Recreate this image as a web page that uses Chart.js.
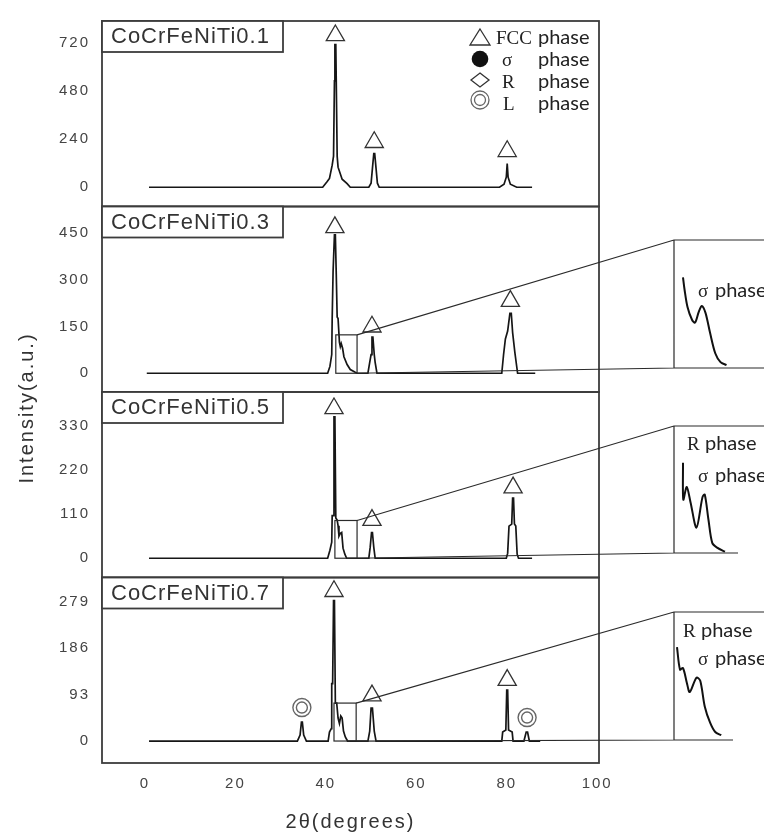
<!DOCTYPE html>
<html>
<head>
<meta charset="utf-8">
<script src="https://cdn.jsdelivr.net/npm/chart.js@4.4.1/dist/chart.umd.min.js"></script>
<style>
  html, body { margin: 0; padding: 0; background: #fff; }
  #wrap { position: relative; width: 764px; height: 835px; overflow: hidden; background: #fff; }
  #wrap canvas { position: absolute; }
</style>
</head>
<body>
<div id="wrap">
  <canvas id="main" width="764" height="835" style="left:0;top:0"></canvas>
  <canvas id="inset03" width="90" height="128" style="left:674px;top:240px"></canvas>
  <canvas id="inset05" width="90" height="127" style="left:674px;top:426px"></canvas>
  <canvas id="inset07" width="90" height="128" style="left:674px;top:612px"></canvas>
</div>
<script>
// --- Data ---
const xTicks = [0, 20, 40, 60, 80, 100];
const sampleNames = ['CoCrFeNiTi0.1', 'CoCrFeNiTi0.3', 'CoCrFeNiTi0.5', 'CoCrFeNiTi0.7'];

const ti01Ticks = [0, 240, 480, 720];
const ti03Ticks = [0, 150, 300, 450];
const ti05Ticks = [0, 110, 220, 330];
const ti07Ticks = [0, 93, 186, 279];

// XRD traces (2θ, intensity)
const ti01X = [0.9, 39.3, 40.3, 40.8, 41.4, 41.7, 41.9, 42.0, 42.2, 42.3, 42.5, 42.7, 43.6, 44.7, 45.4,
               49.5, 50.0, 50.3, 50.6, 50.8, 51.1, 51.4, 51.8,
               78.4, 79.4, 79.9, 80.1, 80.3, 80.8, 82.2, 85.6];
const ti01Y = [0, 0, 28, 44, 110, 155, 530, 710, 710, 530, 155, 100, 40, 18, 0,
               0, 20, 94, 168, 168, 94, 20, 0,
               0, 15, 50, 118, 50, 15, 0, 0];

const ti03X = [0.4, 40.4, 40.9, 41.3, 41.4, 41.6, 41.8, 41.9, 42.1, 42.3, 42.5, 42.7, 43.0, 43.2, 43.4, 43.7, 44.0, 44.7, 45.4, 46.5, 46.9,
               49.3, 49.7, 50.0, 50.2, 50.4, 50.7, 50.9, 51.3,
               78.9, 79.3, 79.7, 80.2, 80.7, 81.0, 81.3, 81.8, 82.4, 86.3];
const ti03Y = [0, 0, 22, 60, 176, 327, 327, 443, 443, 318, 180, 175, 100, 85, 95, 80, 53, 28, 12, 3, 0,
               0, 35, 60, 116, 116, 60, 35, 0,
               0, 60, 110, 135, 192, 192, 130, 66, 0, 0];

const ti05X = [0.9, 40.4, 40.9, 41.3, 41.4, 41.6, 41.8, 42.0, 42.2, 42.5, 42.7, 42.9, 43.2, 43.5, 43.8, 44.2, 44.6,
               49.5, 49.8, 50.1, 50.3, 50.6, 50.9,
               79.9, 80.2, 80.5, 81.1, 81.3, 81.5, 81.7, 82.0, 82.3, 82.6, 85.6];
const ti05Y = [0, 0, 20, 40, 106, 106, 352, 352, 100, 95, 81, 55, 62, 64, 25, 10, 0,
               0, 27, 64, 64, 27, 0,
               0, 12, 80, 85, 150, 150, 85, 80, 10, 0, 0];

const ti07X = [0.9, 33.7, 34.3, 34.6, 34.8, 35.1, 35.7,
               40.5, 40.8, 41.2, 41.3, 41.5, 41.7, 41.9, 42.1, 42.4, 42.7, 43.0, 43.3, 43.6, 43.9, 44.3, 44.8,
               49.3, 49.7, 50.0, 50.3, 50.7, 51.1,
               78.9, 79.1, 79.8, 80.0, 80.2, 80.4, 81.2, 81.4,
               83.8, 84.3, 84.6, 85.0, 87.4];
const ti07Y = [0, 0, 12, 38, 38, 12, 0,
               0, 18, 25, 115, 115, 281, 281, 76, 76, 46, 35, 50, 46, 20, 8, 0,
               0, 20, 66, 66, 20, 0,
               0, 18, 22, 102, 102, 22, 18, 0,
               0, 18, 18, 0, 0];

// FCC phase markers (triangles)
const ti01FccX = [42.1, 50.7, 80.1];
const ti01FccY = [756, 224, 179];
const ti03FccX = [42.0, 50.2, 80.8];
const ti03FccY = [467, 149, 231];
const ti05FccX = [41.8, 50.2, 81.4];
const ti05FccY = [373, 95, 176];
const ti07FccX = [41.8, 50.2, 80.1];
const ti07FccY = [300, 91, 122];
// L phase markers (double circles)
const ti07LX = [34.7, 84.5];
const ti07LY = [67, 47];

// zoomed region (2θ from..to, intensity top) for Ti0.3, Ti0.5, Ti0.7
const zoomFrom = [42.2, 42.0, 41.8];
const zoomTo = [46.9, 46.9, 46.7];
const zoomTop = [123, 94, 76];

// inset curves (zoomed scans)
const inset03X = [42.6, 42.7, 42.9, 43.2, 43.4, 43.65, 43.85, 44.1, 44.4, 44.75, 45.1, 45.5];
const inset03Y = [92, 80, 62, 49, 46, 57, 63, 56, 36, 15, 6, 3];
const inset05X = [42.6, 42.62, 42.85, 43.1, 43.5, 43.9, 44.05, 44.3, 44.55, 44.9, 45.4];
const inset05Y = [71, 42, 52, 40, 20, 44, 46, 26, 8, 4, 1];
const inset07X = [42.2, 42.4, 42.6, 42.85, 43.05, 43.5, 43.75, 44.05, 44.4, 44.75, 45.15];
const inset07Y = [58, 44, 45, 36, 30, 39, 37, 21, 11, 5, 3];

// --- Helpers ---
const pts = (xs, ys) => xs.map((x, i) => ({ x: x, y: ys[i] }));
const SANS = '"Liberation Sans", Arial, sans-serif';
const SERIF = '"Liberation Serif", "DejaVu Serif", serif';
const PHASE = 'Lato, "Open Sans", sans-serif';

const panels = [
    { id: 'y1', xs: ti01X, ys: ti01Y, ticks: ti01Ticks, min: -96, max: 828, fx: ti01FccX, fy: ti01FccY },
    { id: 'y2', xs: ti03X, ys: ti03Y, ticks: ti03Ticks, min: -60, max: 534, fx: ti03FccX, fy: ti03FccY },
    { id: 'y3', xs: ti05X, ys: ti05Y, ticks: ti05Ticks, min: -48, max: 414, fx: ti05FccX, fy: ti05FccY },
    { id: 'y4', xs: ti07X, ys: ti07Y, ticks: ti07Ticks, min: -44, max: 327.5, fx: ti07FccX, fy: ti07FccY }
];

// inset frames (pixel layout) for panels 2..4
const insetBoxes = [
    { id: 'y2', left: 674, top: 240, bottom: 368, baseEnd: 764,
      texts: [{ sym: 'σ', x: 698, px: 715, y: 297 }] },
    { id: 'y3', left: 674, top: 426, bottom: 553, baseEnd: 738,
      texts: [{ sym: 'R', x: 687, px: 705, y: 450 }, { sym: 'σ', x: 698, px: 715, y: 482 }] },
    { id: 'y4', left: 674, top: 612, bottom: 740, baseEnd: 733,
      texts: [{ sym: 'R', x: 683, px: 701, y: 637 }, { sym: 'σ', x: 698, px: 715, y: 665 }] }
];

// --- Datasets ---
const datasets = [];
panels.forEach(p => {
    datasets.push({
        data: pts(p.xs, p.ys), yAxisID: p.id, borderColor: '#161616', borderWidth: 1.7,
        pointRadius: 0, tension: 0, fill: false
    });
    datasets.push({
        data: pts(p.fx, p.fy), yAxisID: p.id, showLine: false, pointStyle: 'triangle',
        pointRadius: 10.5, pointBackgroundColor: '#fff', pointBorderColor: '#333', pointBorderWidth: 1.3
    });
});
datasets.push({
    data: pts(ti07LX, ti07LY), yAxisID: 'y4', showLine: false, pointStyle: 'circle',
    pointRadius: 9, pointBackgroundColor: 'rgba(0,0,0,0)', pointBorderColor: '#666', pointBorderWidth: 1.4
});
datasets.push({
    data: pts(ti07LX, ti07LY), yAxisID: 'y4', showLine: false, pointStyle: 'circle',
    pointRadius: 5.5, pointBackgroundColor: 'rgba(0,0,0,0)', pointBorderColor: '#666', pointBorderWidth: 1.4
});

function yAxis(p) {
    return {
        type: 'linear', position: 'left', stack: 'panels', stackWeight: 1,
        min: p.min, max: p.max,
        grid: { display: false, drawTicks: false },
        border: { display: false },
        ticks: { color: '#444', font: { family: SANS, size: 15 }, padding: 12 },
        afterBuildTicks: s => { s.ticks = p.ticks.map(v => ({ value: v })); },
        afterFit: s => { s.width = 102; }
    };
}

// --- Overlay plugin: frames, labels, zoom boxes, insets, legend ---
const overlayPlugin = {
    id: 'overlay',
    beforeDraw(chart) {
        chart.ctx.letterSpacing = '2px';
    },
    afterDatasetsDraw(chart) {
        const ctx = chart.ctx;
        const area = chart.chartArea;
        const xs = chart.scales.x;
        ctx.save();

        // panel frames and sample labels
        panels.forEach((p, i) => {
            const s = chart.scales[p.id];
            ctx.strokeStyle = '#3c3c3c';
            ctx.lineWidth = 1.8;
            ctx.strokeRect(area.left, s.top, area.right - area.left, s.bottom - s.top);
            ctx.fillStyle = '#fff';
            ctx.fillRect(area.left, s.top, 181, 31);
            ctx.strokeRect(area.left, s.top, 181, 31);
            ctx.fillStyle = '#333';
            ctx.font = '22px ' + SANS;
            ctx.letterSpacing = '1px';
            ctx.textAlign = 'left';
            ctx.textBaseline = 'middle';
            ctx.fillText(sampleNames[i], area.left + 9, s.top + 16);
        });

        // zoom boxes + connectors + inset frames
        ctx.strokeStyle = '#2a2a2a';
        ctx.lineWidth = 1.2;
        insetBoxes.forEach((b, i) => {
            const s = chart.scales[b.id];
            const x0 = xs.getPixelForValue(zoomFrom[i]);
            const x1 = xs.getPixelForValue(zoomTo[i]);
            const yT = s.getPixelForValue(zoomTop[i]);
            const yB = s.getPixelForValue(0);
            ctx.strokeRect(x0, yT, x1 - x0, yB - yT);
            ctx.beginPath();
            ctx.moveTo(x1, yT); ctx.lineTo(b.left, b.top); ctx.lineTo(764, b.top);
            ctx.moveTo(b.left, b.top); ctx.lineTo(b.left, b.bottom);
            ctx.moveTo(x1, yB); ctx.lineTo(b.left, b.bottom); ctx.lineTo(b.baseEnd, b.bottom);
            ctx.stroke();

            ctx.letterSpacing = '0px';
            ctx.textBaseline = 'alphabetic';
            ctx.fillStyle = '#222';
            b.texts.forEach(t => {
                ctx.font = '19px ' + SERIF;
                ctx.fillText(t.sym, t.x, t.y);
                ctx.font = '20px ' + PHASE;
                ctx.fillText('phase', t.px, t.y);
            });
        });

        // legend
        ctx.lineWidth = 1.3;
        ctx.strokeStyle = '#333';
        ctx.fillStyle = '#fff';
        ctx.beginPath();
        ctx.moveTo(480, 29); ctx.lineTo(490, 45); ctx.lineTo(470, 45); ctx.closePath();
        ctx.fill(); ctx.stroke();
        ctx.fillStyle = '#111';
        ctx.beginPath(); ctx.arc(480, 59, 8.3, 0, Math.PI * 2); ctx.fill();
        ctx.beginPath();
        ctx.moveTo(480, 73); ctx.lineTo(489, 80); ctx.lineTo(480, 87); ctx.lineTo(471, 80); ctx.closePath();
        ctx.stroke();
        ctx.strokeStyle = '#666';
        ctx.beginPath(); ctx.arc(480, 100, 9, 0, Math.PI * 2); ctx.stroke();
        ctx.beginPath(); ctx.arc(480, 100, 5.5, 0, Math.PI * 2); ctx.stroke();

        const legendRows = [['FCC', 496, 44], ['σ', 502, 66], ['R', 502, 88], ['L', 503, 110]];
        ctx.fillStyle = '#222';
        legendRows.forEach(r => {
            ctx.font = '19px ' + SERIF;
            ctx.fillText(r[0], r[1], r[2]);
            ctx.font = '20px ' + PHASE;
            ctx.fillText('phase', 538, r[2]);
        });

        // y axis title
        ctx.font = '20px ' + SANS;
        ctx.letterSpacing = '2px';
        ctx.fillStyle = '#333';
        ctx.textAlign = 'center';
        ctx.textBaseline = 'middle';
        ctx.translate(27, 408);
        ctx.rotate(-Math.PI / 2);
        ctx.fillText('Intensity(a.u.)', 0, 0);

        ctx.restore();
        ctx.letterSpacing = '2px';
    }
};

const scales = {
    x: {
        type: 'linear', min: -9.5, max: 100.4,
        grid: { display: false, drawTicks: false },
        border: { display: false },
        ticks: { color: '#444', font: { family: SANS, size: 15 }, padding: 12 },
        title: { display: true, text: '2θ(degrees)', color: '#333',
                 font: { family: SANS, size: 20 }, padding: { top: 0, bottom: 1 } },
        afterBuildTicks: s => { s.ticks = xTicks.map(v => ({ value: v })); },
        afterFit: s => { s.height = 72; }
    }
};
// last defined left axis is placed on top of the stack
for (let i = panels.length - 1; i >= 0; i--) scales[panels[i].id] = yAxis(panels[i]);

new Chart(document.getElementById('main'), {
    type: 'line',
    data: { datasets: datasets },
    options: {
        responsive: false, animation: false, devicePixelRatio: 1,
        layout: { padding: { top: 13, right: 165, left: 0, bottom: 0 } },
        plugins: { legend: { display: false }, tooltip: { enabled: false } },
        scales: scales
    },
    plugins: [overlayPlugin]
});

// --- Insets ---
function makeInset(canvasId, xs, ys, yMax) {
    new Chart(document.getElementById(canvasId), {
        type: 'line',
        data: { datasets: [{ data: pts(xs, ys), borderColor: '#111', borderWidth: 2,
                             pointRadius: 0, tension: 0.3, fill: false }] },
        options: {
            responsive: false, animation: false, devicePixelRatio: 1,
            layout: { padding: 0 },
            plugins: { legend: { display: false }, tooltip: { enabled: false } },
            scales: {
                x: { type: 'linear', min: 42, max: 48, display: false },
                y: { min: 0, max: yMax, display: false }
            }
        }
    });
}
makeInset('inset03', inset03X, inset03Y, 130);
makeInset('inset05', inset05X, inset05Y, 100);
makeInset('inset07', inset07X, inset07Y, 80);
</script>
</body>
</html>
